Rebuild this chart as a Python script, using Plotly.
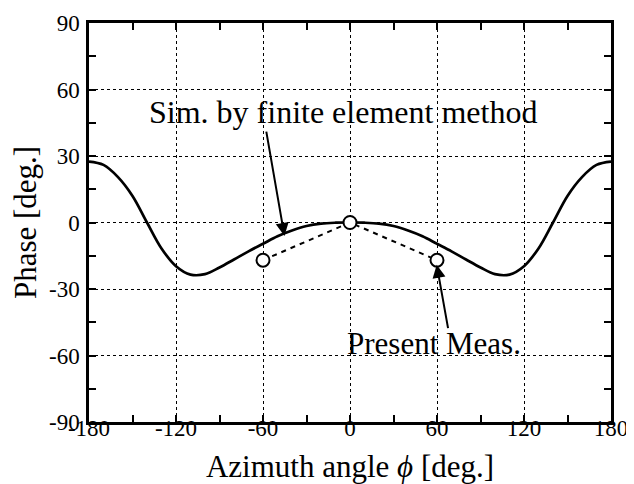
import plotly.graph_objects as go

# Simulated phase (finite element method)
phi_sim = [-180, -170, -160, -150, -140, -130, -120, -110, -100, -90, -80, -70, -60, -50, -40, -30, -20, -10,
           0, 10, 20, 30, 40, 50, 60, 70, 80, 90, 100, 110, 120, 130, 140, 150, 160, 170, 180]
phase_sim = [27.5, 26, 20.5, 12, 0, -11.7, -19.7, -23.5, -23.3, -20.3, -16.7, -13, -9.6, -6.2, -3.6, -1.6, -0.5, -0.1,
             0, -0.1, -0.5, -1.6, -3.6, -6.2, -9.6, -13, -16.7, -20.3, -23.3, -23.5, -19.7, -11.7, 0, 12, 20.5, 26, 27.5]

# Present measurement
phi_meas = [-60, 0, 60]
phase_meas = [-17, 0, -17]

x_ticks = [-180, -120, -60, 0, 60, 120, 180]
x_tick_text = ["-180", "-120", "-60", "0", "60", "120", "180"]
y_ticks = [-90, -60, -30, 0, 30, 60, 90]
y_tick_text = ["-90", "-60", "-30", "0", "30", "60", "90"]

FONT = "Liberation Serif"

fig = go.Figure()
fig.add_trace(go.Scatter(x=phi_sim, y=phase_sim, mode="lines",
                         line=dict(color="black", width=2.7, shape="spline", smoothing=1.0),
                         showlegend=False, hoverinfo="skip"))
fig.add_trace(go.Scatter(x=phi_meas, y=phase_meas, mode="lines+markers",
                         line=dict(color="black", width=2, dash="5px,5px"),
                         marker=dict(symbol="circle", size=13, color="white",
                                     line=dict(color="black", width=2)),
                         showlegend=False, hoverinfo="skip"))

axis_common = dict(
    ticks="inside", ticklen=7, tickwidth=2, tickcolor="black",
    showline=True, linewidth=2.5, linecolor="black", mirror="ticks",
    showgrid=True, gridcolor="black", gridwidth=1, griddash="dot",
    zeroline=False, automargin=False,
    tickfont=dict(family=FONT, size=23, color="black"),
)

fig.update_xaxes(range=[-180, 180], tickvals=x_ticks, ticktext=x_tick_text, ticklabelstandoff=-16,
                 minor=dict(dtick=30, tick0=0, ticks="inside", ticklen=7, tickwidth=2, tickcolor="black", showgrid=False),
                 title=dict(text="Azimuth angle <i>ϕ</i> [deg.]", font=dict(family=FONT, size=31, color="black"), standoff=16),
                 **axis_common)
fig.update_yaxes(range=[-90, 90], tickvals=y_ticks, ticktext=y_tick_text, ticklabelstandoff=2,
                 minor=dict(dtick=15, tick0=0, ticks="inside", ticklen=7, tickwidth=2, tickcolor="black", showgrid=False),
                 title=dict(text="Phase [deg.]", font=dict(family=FONT, size=31, color="black"), standoff=8),
                 **axis_common)

fig.add_annotation(x=-4.8, y=50, text="Sim. by finite element method", showarrow=False,
                   font=dict(family=FONT, size=32, color="black"))
fig.add_annotation(x=-45.2, y=-6.1, ax=-57.9, ay=41.7, axref="x", ayref="y", text="",
                   showarrow=True, arrowhead=2, arrowsize=1.3, arrowwidth=2, arrowcolor="black")
fig.add_annotation(x=57.9, y=-54.6, text="Present Meas.", showarrow=False,
                   font=dict(family=FONT, size=31, color="black"))
fig.add_annotation(x=59.8, y=-19.1, ax=67.8, ay=-48.3, axref="x", ayref="y", text="",
                   showarrow=True, arrowhead=2, arrowsize=1.3, arrowwidth=2, arrowcolor="black")

# The page has an 8px body margin, so the figure is sized to fit the 634x484 window.
fig.update_layout(width=626, height=476, margin=dict(l=81, r=23, t=15, b=62),
                  plot_bgcolor="white", paper_bgcolor="white",
                  font=dict(family=FONT, color="black"))

fig.write_html("out.html")
